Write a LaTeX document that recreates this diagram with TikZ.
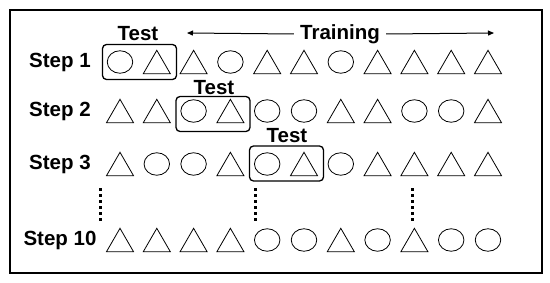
\documentclass[tikz,border=0pt]{standalone}
\usepackage{fontspec}
\setmainfont{Liberation Sans}
\usetikzlibrary{arrows.meta,shapes.geometric}
\begin{document}
\begin{tikzpicture}[x=1pt,y=-1pt,
  oval/.style={draw,ellipse,line width=0.8pt,minimum width=25.5pt,minimum height=22.5pt,inner sep=0pt},
  tri/.style={draw,regular polygon,regular polygon sides=3,line width=0.8pt,minimum size=31.2pt,inner sep=0pt},
  lbl/.style={font=\fontsize{20.5}{24}\selectfont\bfseries,inner sep=0pt},
  testbox/.style={draw,rounded corners=4pt,line width=1.3pt,minimum width=74pt,minimum height=35pt,inner sep=0pt},
  dotline/.style={line width=3pt,dash pattern=on 3pt off 3pt},
  arr/.style={line width=1pt,-{Triangle[length=6pt,width=5pt]}}]
\useasboundingbox (0,0) rectangle (550,283);
\node[draw,line width=2.8pt,minimum width=532pt,minimum height=263pt,inner sep=0pt] (frame) at (276,141.5) {};
% step labels
\node[lbl] (s1) at (60,62) {Step 1};
\node[lbl] (s2) at (60,111) {Step 2};
\node[lbl] (s3) at (60,164) {Step 3};
\node[lbl] (s10) at (60,240) {Step 10};
% rows
\foreach \r/\y/\seq in {1/62/{0,1,1,0,1,1,0,1,1,1,1},2/111/{1,1,0,1,0,0,1,1,0,0,1},3/164/{1,0,0,1,0,1,0,1,1,1,1},10/240/{1,1,1,1,0,0,1,0,1,0,0}}{
  \foreach \k [count=\i from 0] in \seq {
    \ifnum\k=0
      \node[oval] (r\r c\i) at ({120+36.8*\i},\y) {};
    \else
      \node[tri] (r\r c\i) at ({120+36.8*\i},{\y+3.9}) {};
    \fi
  }
}
% test boxes
\node[testbox] (b1) at (139.5,62) {};
\node[testbox] (b2) at (213,114) {};
\node[testbox] (b3) at (286.5,163.5) {};
\node[lbl] (t1) at (138,34) {Test};
\node[lbl] (t2) at (214,88) {Test};
\node[lbl] (t3) at (287,136) {Test};
% training
\node[lbl] (tr) at (340,34) {Training};
\coordinate (la) at (187,33);
\coordinate (ra) at (494,33);
\draw[arr] ([xshift=-6pt]tr.west) -- (la);
\draw[arr] ([xshift=6pt]tr.east) -- (ra);
% dots
\foreach \x [count=\j] in {100,255,412}{
  \coordinate (d\j a) at (\x,188.5);
  \coordinate (d\j b) at (\x,221.5);
  \draw[dotline] (d\j a) -- (d\j b);
}
\end{tikzpicture}
\end{document}
